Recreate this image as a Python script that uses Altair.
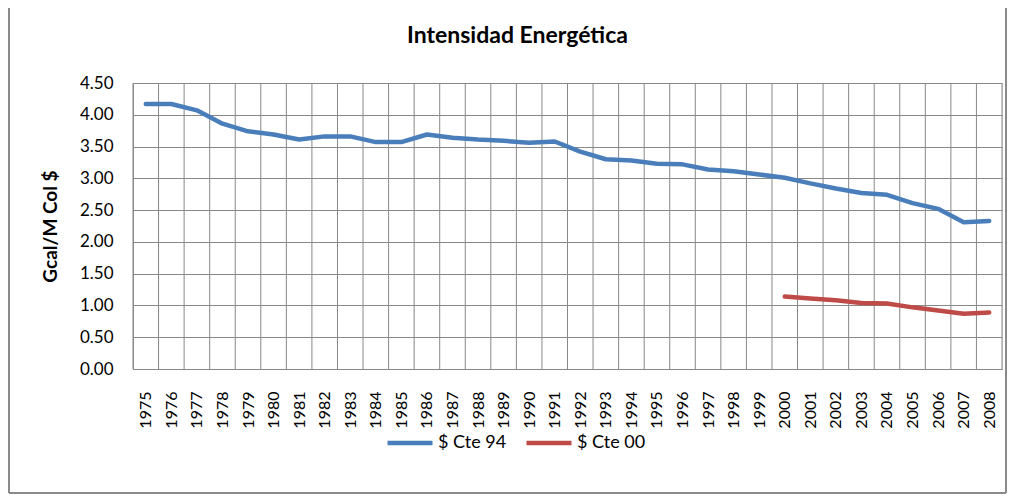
import altair as alt
import pandas as pd

years = list(range(1975, 2009))
cte94 = [4.17, 4.17, 4.07, 3.86, 3.74, 3.69, 3.61, 3.66, 3.66, 3.57,
         3.57, 3.69, 3.64, 3.61, 3.59, 3.56, 3.58, 3.42, 3.30, 3.28,
         3.23, 3.22, 3.14, 3.11, 3.06, 3.01, 2.92, 2.84, 2.77, 2.74,
         2.61, 2.52, 2.31, 2.33]
years00 = list(range(2000, 2009))
cte00 = [1.14, 1.11, 1.08, 1.04, 1.03, 0.97, 0.92, 0.87, 0.89]
series_names = ["$ Cte 94", "$ Cte 00"]
series_colors = ["#4a7ebb", "#be4b48"]
y_ticks = [0, 0.5, 1.0, 1.5, 2.0, 2.5, 3.0, 3.5, 4.0, 4.5]

df = pd.concat([
    pd.DataFrame({"year": years, "value": cte94, "serie": series_names[0]}),
    pd.DataFrame({"year": years00, "value": cte00, "serie": series_names[1]}),
])
bounds = pd.DataFrame({"b": [y - 0.5 for y in years] + [years[-1] + 0.5]})

FONT = "Lato"
W, H = 869, 286
xscale = alt.Scale(domain=[years[0] - 0.5, years[-1] + 0.5], nice=False, zero=False)
yscale = alt.Scale(domain=[0, 4.5], nice=False)

xaxis = alt.Axis(values=years, format="d", labelAngle=270, labelAlign="right",
                 labelBaseline="middle", labelPadding=22, ticks=False, grid=False,
                 domainColor="#888888", labelFontSize=16, labelFont=FONT,
                 labelColor="#000000", title=None, labelOverlap=False)

frame = alt.Chart(bounds).mark_rect(fill=None, stroke="#8a8a8a", strokeWidth=1).encode(
    x=alt.value(-124), x2=alt.value(W + 4), y=alt.value(-76), y2=alt.value(H + 124)
)

vgrid = alt.Chart(bounds).mark_rule(color="#888888", strokeWidth=1).encode(
    x=alt.X("b:Q", scale=xscale, axis=xaxis)
)

lines = alt.Chart(df).mark_line(strokeWidth=4.5, strokeCap="round", strokeJoin="round").encode(
    x=alt.X("year:Q", scale=xscale, axis=xaxis),
    y=alt.Y("value:Q", scale=yscale,
            axis=alt.Axis(values=y_ticks, format=".2f", ticks=False, labelPadding=20,
                          grid=True, gridColor="#888888", domainColor="#888888",
                          labelFontSize=17, labelFont=FONT, labelColor="#000000",
                          title="Gcal/M Col $", titleFont=FONT, titleFontSize=19,
                          titleFontWeight="bold", titleColor="#000000",
                          titleAngle=270, titleX=-83, titleY=H / 2,
                          titleAlign="center", titleBaseline="middle")),
    color=alt.Color("serie:N", scale=alt.Scale(domain=series_names, range=series_colors),
                    legend=alt.Legend(title=None, orient="none", direction="horizontal",
                                      legendX=252, legendY=335,
                                      symbolType="stroke", symbolSize=2025,
                                      symbolStrokeWidth=4.5, labelFontSize=18,
                                      labelFont=FONT, labelColor="#000000",
                                      labelOffset=3, columnPadding=10)),
    detail="serie:N",
)

chart = alt.layer(frame, vgrid, lines).properties(
    width=W, height=H,
    title=alt.TitleParams("Intensidad Energética", font=FONT, fontSize=23,
                          fontWeight="bold", color="#000000", anchor="middle",
                          frame="group", dx=-50, offset=-41),
    autosize=alt.AutoSizeParams(type="none"),
    padding={"left": 125, "top": 75, "right": 6, "bottom": 125},
).configure_view(stroke=None).configure(background="white")

chart.save("out.html", embed_options={"renderer": "svg", "actions": False})
